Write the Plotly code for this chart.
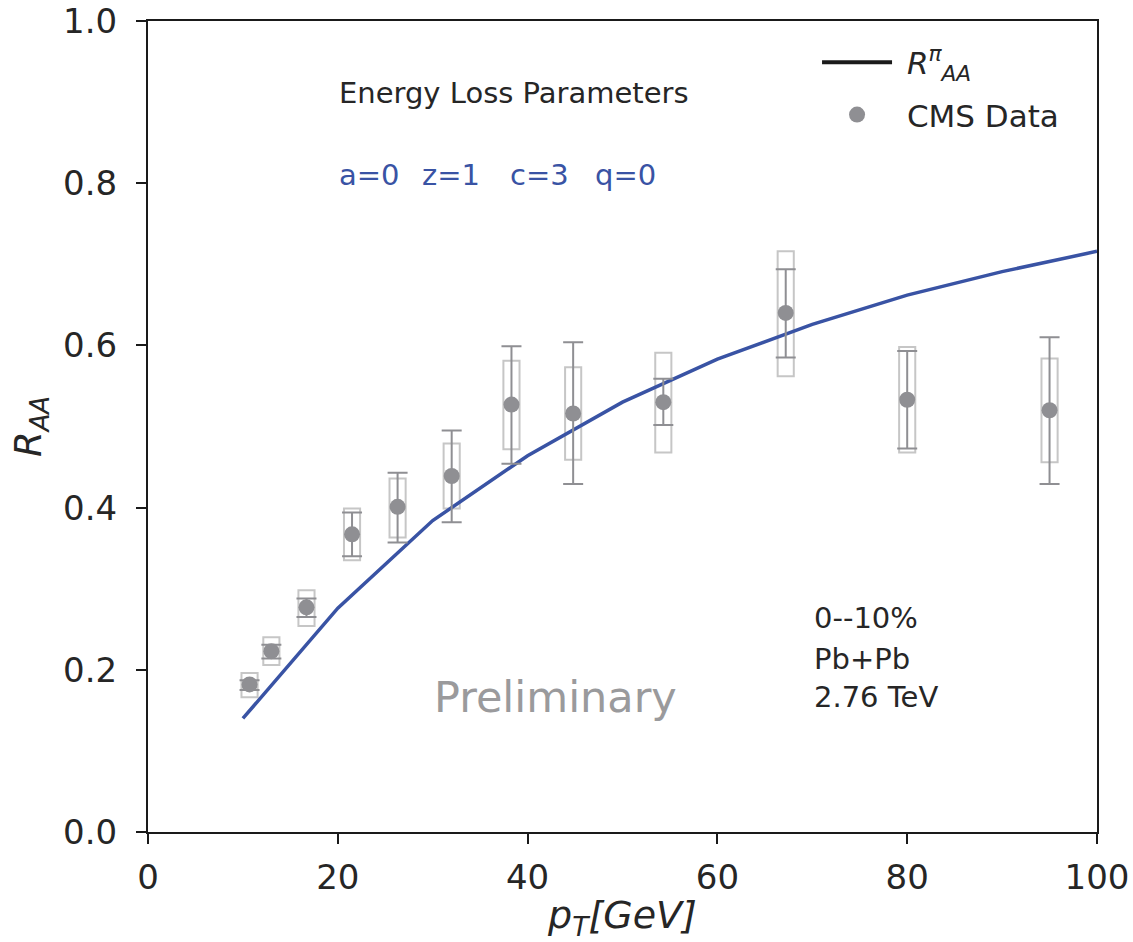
import plotly.graph_objects as go

# Model curve R_AA^pi
curve_pt = [10, 20, 30, 40, 50, 60, 70, 80, 90, 100]
curve_raa = [0.140, 0.276, 0.384, 0.464, 0.530, 0.583, 0.626, 0.662, 0.691, 0.716]

# CMS data
cms_pt = [10.7, 13.0, 16.7, 21.5, 26.3, 32.0, 38.3, 44.8, 54.3, 67.2, 80.0, 95.0]
cms_raa = [0.182, 0.223, 0.277, 0.367, 0.401, 0.439, 0.527, 0.516, 0.530, 0.640, 0.533, 0.520]
stat_hi = [0.187, 0.231, 0.288, 0.394, 0.443, 0.495, 0.599, 0.604, 0.559, 0.694, 0.593, 0.610]
stat_lo = [0.175, 0.214, 0.265, 0.340, 0.357, 0.382, 0.454, 0.429, 0.502, 0.585, 0.473, 0.429]
sys_hi = [0.196, 0.240, 0.298, 0.399, 0.436, 0.479, 0.581, 0.573, 0.591, 0.716, 0.598, 0.584]
sys_lo = [0.166, 0.206, 0.254, 0.335, 0.363, 0.399, 0.472, 0.459, 0.468, 0.562, 0.468, 0.456]
box_halfwidth = 0.85

x_ticks = [0, 20, 40, 60, 80, 100]
y_ticks = [0.0, 0.2, 0.4, 0.6, 0.8, 1.0]

FONT = "DejaVu Sans"
TXT = "#262626"
BLUE = "#3953a4"
GRAY = "#8f8f93"
BOXGRAY = "#c6c6c6"

fig = go.Figure()

# legend-only black line entry
fig.add_trace(go.Scatter(
    x=[None], y=[None], mode="lines",
    line=dict(color="#1a1a1a", width=4),
    name="\u00a0<i>R</i><sup><i>π</i></sup><sub><i>AA</i></sub>",
    showlegend=True, legendgroup="model",
))

fig.add_trace(go.Scatter(
    x=curve_pt, y=curve_raa, mode="lines",
    line=dict(color=BLUE, width=3.5),
    showlegend=False, name="model", legendgroup="curve",
))

# systematic boxes
for xp, lo, hi in zip(cms_pt, sys_lo, sys_hi):
    fig.add_shape(type="rect", xref="x", yref="y",
                  x0=xp - box_halfwidth, x1=xp + box_halfwidth, y0=lo, y1=hi,
                  line=dict(color=BOXGRAY, width=2), fillcolor="rgba(0,0,0,0)",
                  layer="below")

fig.add_trace(go.Scatter(
    x=cms_pt, y=cms_raa, mode="markers",
    marker=dict(color=GRAY, size=16),
    error_y=dict(type="data", symmetric=False,
                 array=[h - v for h, v in zip(stat_hi, cms_raa)],
                 arrayminus=[v - l for l, v in zip(stat_lo, cms_raa)],
                 color=GRAY, thickness=2, width=10),
    name="\u00a0CMS Data", legendgroup="data",
))

ann = []
def add_text(x, y, text, size=29, color=TXT, xanchor="left"):
    ann.append(dict(x=x, y=y, xref="x", yref="y", text=text, showarrow=False,
                    xanchor=xanchor, yanchor="middle",
                    font=dict(family=FONT, size=size, color=color)))

add_text(19.9, 0.911, "Energy Loss Parameters")
for xx, t in zip([19.9, 28.7, 37.9, 46.9], ["a=0", "z=1", "c=3", "q=0"]):
    add_text(xx, 0.810, t, color=BLUE)
add_text(42.9, 0.167, "Preliminary", size=43, color="#9a9a9c", xanchor="center")
add_text(70.0, 0.264, "0--10%")
add_text(70.0, 0.213, "Pb+Pb")
add_text(70.0, 0.166, "2.76 TeV")

axis_common = dict(
    showline=True, linecolor="#1a1a1a", linewidth=2, mirror=True,
    ticks="outside", ticklen=10, tickwidth=2, tickcolor="#1a1a1a",
    showgrid=False, zeroline=False, automargin=False,
    tickfont=dict(family=FONT, size=34, color=TXT),
)

fig.update_layout(
    width=1133, height=942,
    margin=dict(l=148, r=36, t=21, b=110, autoexpand=False),
    paper_bgcolor="white", plot_bgcolor="white",
    font=dict(family=FONT, color=TXT),
    xaxis=dict(range=[0, 100], tickvals=x_ticks, ticktext=[str(v) for v in x_ticks],
               title=dict(text="<i>p</i><sub><i>T</i></sub><i>[GeV]</i>",
                          font=dict(family=FONT, size=38, color=TXT), standoff=14),
               ticklabelstandoff=4,
               **axis_common),
    yaxis=dict(range=[0, 1], tickvals=y_ticks, ticktext=[f"{v:.1f}" for v in y_ticks],
               title=dict(text="<i>R</i><sub><i>AA</i></sub>",
                          font=dict(family=FONT, size=37, color=TXT), standoff=10),
               ticklabelstandoff=12,
               **axis_common),
    legend=dict(x=0.705, y=0.982, xanchor="left", yanchor="top",
                bgcolor="rgba(255,255,255,0)",
                font=dict(family=FONT, size=31, color=TXT),
                itemwidth=70, traceorder="grouped", tracegroupgap=9),
    annotations=ann,
)

fig.write_html("out.html")
